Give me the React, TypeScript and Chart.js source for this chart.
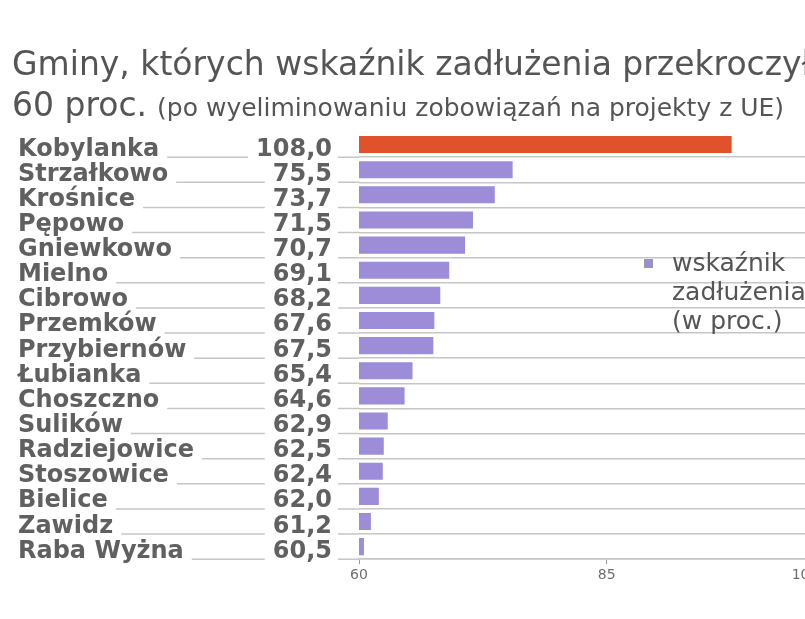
import React, { useEffect, useRef } from "react";
import { Chart, registerables } from "chart.js";

Chart.register(...registerables);

// Gminy i ich wskaźnik zadłużenia (w proc.)
const gminy = [
  "Kobylanka",
  "Strzałkowo",
  "Krośnice",
  "Pępowo",
  "Gniewkowo",
  "Mielno",
  "Cibrowo",
  "Przemków",
  "Przybiernów",
  "Łubianka",
  "Choszczno",
  "Sulików",
  "Radziejowice",
  "Stoszowice",
  "Bielice",
  "Zawidz",
  "Raba Wyżna",
];
const wskaznik = [108.0, 75.5, 73.7, 71.5, 70.7, 69.1, 68.2, 67.6, 67.5, 65.4, 64.6, 62.9, 62.5, 62.4, 62.0, 61.2, 60.5];

const tytul = "Gminy, których wskaźnik zadłużenia przekroczył";
const tytul2 = "60 proc.";
const podtytul = "(po wyeliminowaniu zobowiązań na projekty z UE)";
const legenda = ["wskaźnik", "zadłużenia", "(w proc.)"];

const osMin = 60;
const osMax = 105;
const osPodzialka = [60, 85, 105];
// bars above this value are drawn broken off at it
const przerwa = 97.6;

const FONT = '"DejaVu Sans", sans-serif';
const FIOLET = "#9d8cd8";
const CZERWONY = "#e0522c";
const SZARY_TEKST = "#555555";
const LINIA = "#c6c6c6";

const fmt = (v: number) => v.toFixed(1).replace(".", ",");

const przerwaSlupka = {
  id: "przerwaSlupka",
  beforeDatasetDraw(chart: any) {
    const { ctx, chartArea, scales } = chart;
    const xr = scales.x.getPixelForValue(przerwa);
    ctx.save();
    ctx.beginPath();
    ctx.rect(chartArea.left, chartArea.top, xr - chartArea.left, chartArea.bottom - chartArea.top);
    ctx.clip();
  },
  afterDatasetDraw(chart: any) {
    chart.ctx.restore();
  },
};

const opisy = {
  id: "opisy",
  afterDraw(chart: any) {
    const { ctx, chartArea, scales } = chart;
    const y = scales.y;
    const rowH = y.getPixelForValue(1) - y.getPixelForValue(0);
    ctx.save();

    // title
    ctx.fillStyle = SZARY_TEKST;
    ctx.textAlign = "left";
    ctx.textBaseline = "alphabetic";
    ctx.font = `33px ${FONT}`;
    ctx.fillText(tytul, 12, 75);
    ctx.fillText(tytul2, 12, 116);
    const w2 = ctx.measureText(tytul2).width;
    ctx.font = `25px ${FONT}`;
    ctx.fillText(podtytul, 12 + w2 + 10, 116);

    // row labels with leaders
    const nameX = 18;
    const valRight = 332;
    gminy.forEach((name: string, i: number) => {
      const yc = y.getPixelForValue(i);
      const yl = yc + rowH / 2;
      ctx.font = `bold 24px ${FONT}`;
      ctx.fillStyle = "#606060";
      ctx.textAlign = "left";
      ctx.fillText(name, nameX, yc + 11);
      const nw = ctx.measureText(name).width;
      const val = fmt(wskaznik[i]);
      ctx.textAlign = "right";
      ctx.fillText(val, valRight, yc + 11);
      const vw = ctx.measureText(val).width;

      ctx.strokeStyle = LINIA;
      ctx.lineWidth = 1.5;
      ctx.beginPath();
      ctx.moveTo(nameX + nw + 8, yl);
      ctx.lineTo(valRight - vw - 8, yl);
      ctx.moveTo(valRight + 6, yl);
      ctx.lineTo(chartArea.left, yl);
      ctx.stroke();
    });

    // legend
    ctx.fillStyle = FIOLET;
    ctx.fillRect(644, 259, 8, 8);
    ctx.strokeStyle = "#9a9a9a";
    ctx.lineWidth = 1;
    ctx.strokeRect(644.5, 259.5, 8, 8);
    ctx.fillStyle = SZARY_TEKST;
    ctx.textAlign = "left";
    ctx.font = `25px ${FONT}`;
    legenda.forEach((t: string, i: number) => {
      ctx.fillText(t, 672, 271 + i * 29);
    });

    ctx.restore();
  },
};

export default function App() {
  const ref = useRef<HTMLCanvasElement | null>(null);

  useEffect(() => {
    document.body.style.margin = "0";
    document.body.style.overflow = "hidden";
    const canvas = ref.current;
    if (!canvas) return;
    const chart = new Chart(canvas, {
      type: "bar",
      data: {
        labels: gminy,
        datasets: [
          {
            data: wskaznik,
            backgroundColor: wskaznik.map((v) => (v > 100 ? CZERWONY : FIOLET)),
            borderWidth: 0,
            barPercentage: 0.68,
            categoryPercentage: 1,
          },
        ],
      },
      options: {
        animation: false,
        responsive: false,
        indexAxis: "y",
        layout: { padding: { left: 359, right: 35, top: 132, bottom: 32 } },
        plugins: {
          legend: { display: false },
          tooltip: { enabled: false },
          title: { display: false },
        },
        scales: {
          x: {
            type: "linear",
            min: osMin,
            max: osMax,
            position: "bottom",
            afterBuildTicks: (axis: any) => {
              axis.ticks = osPodzialka.map((value) => ({ value }));
            },
            ticks: {
              color: "#6f6f6f",
              font: { family: FONT, size: 14 },
              padding: 3,
            },
            grid: {
              display: true,
              drawOnChartArea: false,
              drawTicks: true,
              tickLength: 5,
              color: "#9a9a9a",
            },
            border: { display: true, color: LINIA, width: 1.5 },
          },
          y: {
            type: "category",
            ticks: { display: false },
            grid: {
              offset: true,
              color: (c: any) => (c.index === 0 ? "rgba(0,0,0,0)" : LINIA),
              lineWidth: 1.5,
              drawTicks: false,
            },
            border: { display: false },
          },
        },
      },
      plugins: [przerwaSlupka, opisy],
    });
    return () => chart.destroy();
  }, []);

  return (
    <div style={{ width: 805, height: 619, overflow: "hidden", position: "relative", background: "#fff" }}>
      <canvas ref={ref} width={840} height={619} style={{ display: "block" }} />
    </div>
  );
}
